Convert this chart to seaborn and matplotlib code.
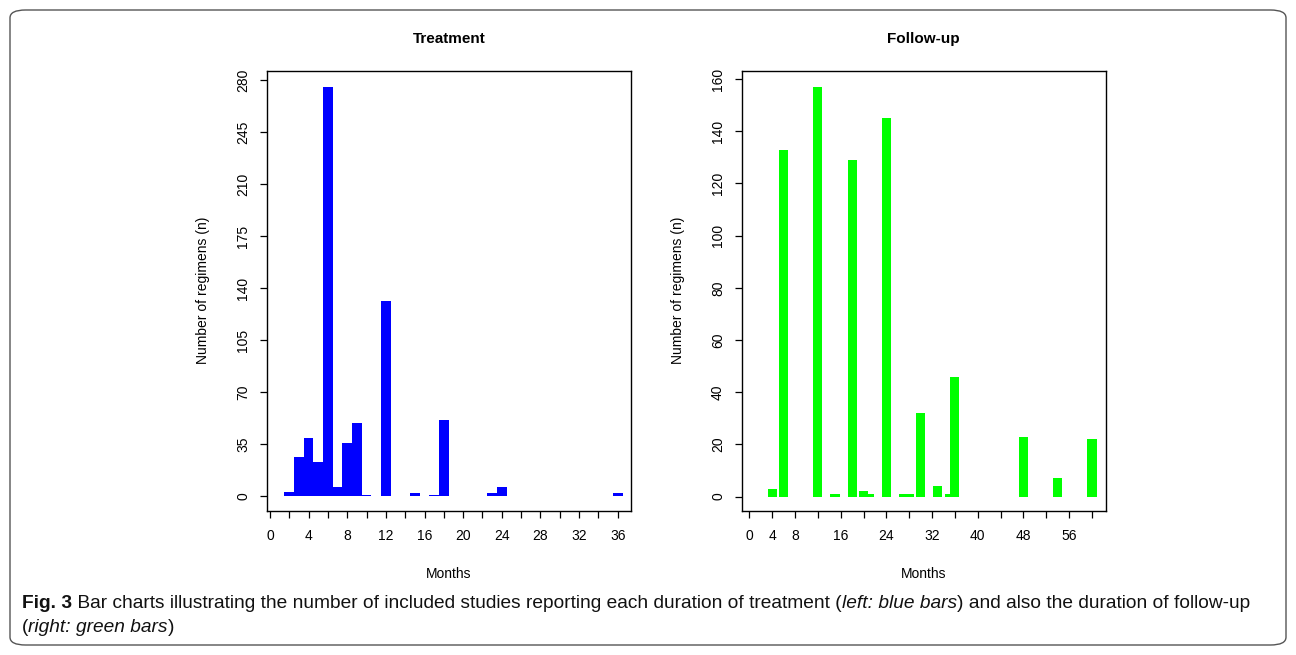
import matplotlib
matplotlib.use("Agg")
import matplotlib.pyplot as plt
from matplotlib.patches import FancyBboxPatch
import seaborn as sns
import pandas as pd

# ---- data ----
treat_months = [2, 3, 4, 5, 6, 7, 8, 9, 10, 12, 15, 17, 18, 23, 24, 36]
treat_counts = [3, 26, 39, 23, 275, 6, 36, 49, 1, 131, 2, 1, 51, 2, 6, 2]

follow_months = [4, 6, 12, 15, 18, 20, 21, 24, 27, 28, 30, 33, 35, 36, 48, 54, 60]
follow_counts = [3, 133, 157, 1, 129, 2, 1, 145, 1, 1, 32, 4, 1, 46, 23, 7, 22]

treat_xticks = list(range(0, 37, 2))
treat_xlabels = [str(v) if v % 4 == 0 else "" for v in treat_xticks]
treat_yticks = [0, 35, 70, 105, 140, 175, 210, 245, 280]

follow_xticks = list(range(0, 61, 4))
follow_shown = [0, 4, 8, 16, 24, 32, 40, 48, 56]
follow_xlabels = [str(v) if v in follow_shown else "" for v in follow_xticks]
follow_yticks = [0, 20, 40, 60, 80, 100, 120, 140, 160]

titles = ["Treatment", "Follow-up"]
xlabel = "Months"
ylabel = "Number of regimens (n)"

sns.set_theme(style="white")
plt.rcParams["font.family"] = ["Liberation Sans", "DejaVu Sans"]
plt.rcParams["text.color"] = "black"
plt.rcParams["axes.labelcolor"] = "black"

W, H = 1296, 655
fig = plt.figure(figsize=(W / 100, H / 100), dpi=100)

def fx(px):
    return px / W

def fy(py):
    return 1 - py / H

ax1 = fig.add_axes([fx(266.7), fy(510.7), fx(631 - 266.7), (510.7 - 70.7) / H])
ax2 = fig.add_axes([fx(741.7), fy(510.7), fx(1105.7 - 741.7), (510.7 - 70.7) / H])

df1 = pd.DataFrame({"month": treat_months, "n": treat_counts})
df2 = pd.DataFrame({"month": follow_months, "n": follow_counts})

sns.barplot(data=df1, x="month", y="n", native_scale=True, width=1.0,
            color="#0000FF", saturation=1, errorbar=None, ax=ax1,
            edgecolor="none", linewidth=0)
sns.barplot(data=df2, x="month", y="n", native_scale=True, width=1.6,
            color="#00FF00", saturation=1, errorbar=None, ax=ax2,
            edgecolor="none", linewidth=0)

ax1.set_xlim(-0.34, 37.38)
ax1.set_ylim(-9.9, 286.3)
ax2.set_xlim(-1.33, 62.4)
ax2.set_ylim(-5.4, 163.2)

for ax, xt, xl, yt, title in [
    (ax1, treat_xticks, treat_xlabels, treat_yticks, titles[0]),
    (ax2, follow_xticks, follow_xlabels, follow_yticks, titles[1]),
]:
    ax.set_xticks(xt)
    ax.set_xticklabels(xl)
    ax.set_yticks(yt)
    ax.set_yticklabels([str(v) for v in yt], rotation=90, va="center")
    ax.tick_params(axis="both", which="major", direction="out", length=5,
                   width=0.9, color="black", labelsize=10, labelcolor="black",
                   bottom=True, left=True)
    ax.tick_params(axis="y", pad=7)
    ax.tick_params(axis="x", pad=8)
    for s in ax.spines.values():
        s.set_visible(True)
        s.set_color("black")
        s.set_linewidth(1.0)
    ax.set_xlabel(xlabel, fontsize=10, color="black")
    ax.set_ylabel(ylabel, fontsize=10, color="black")
    ax.xaxis.set_label_coords(0.5, -0.128)
    ax.yaxis.set_label_coords(-0.155, 0.5)
    ax.set_title(title, fontsize=11, fontweight="bold", pad=20, color="black")
    ax.grid(False)

# outer rounded frame
frame = FancyBboxPatch((fx(10), fy(645)), fx(1276), (645 - 10) / H,
                       boxstyle="round,pad=0,rounding_size=0.012",
                       transform=fig.transFigure, fill=False,
                       edgecolor="#555555", linewidth=1.0)
fig.patches.append(frame)

# caption with mixed styles
cap_font = ["Liberation Sans Narrow", "Liberation Sans", "DejaVu Sans"]
cap_size = 13.75
line1 = [
    ("Fig. 3", "bold", "normal"),
    (" Bar charts illustrating the number of included studies reporting each duration of treatment (", "normal", "normal"),
    ("left: blue bars", "normal", "italic"),
    (") and also the duration of follow-up", "normal", "normal"),
]
line2 = [
    ("(", "normal", "normal"),
    ("right: green bars", "normal", "italic"),
    (")", "normal", "normal"),
]
fig.canvas.draw()
renderer = fig.canvas.get_renderer()
for pieces, ypx in [(line1, 604), (line2, 627)]:
    xpx = 22
    for txt, wt, st in pieces:
        t = fig.text(fx(xpx), fy(ypx), txt, fontsize=cap_size, fontweight=wt,
                     fontstyle=st, family=cap_font, va="center", ha="left",
                     color="#111111")
        bb = t.get_window_extent(renderer=renderer)
        xpx = bb.x1

fig.savefig("out.png", dpi=100)
